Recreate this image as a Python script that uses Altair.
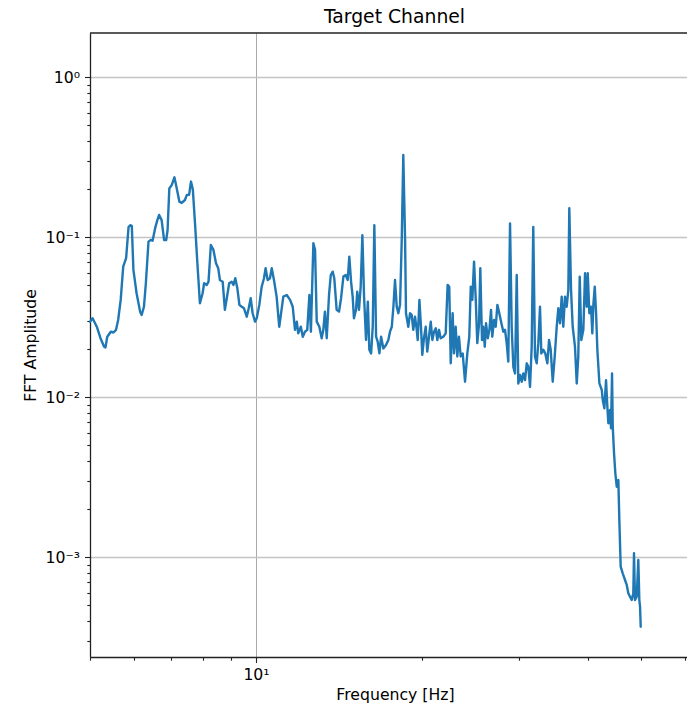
import altair as alt
import pandas as pd

# Spectrum of the target channel: frequency bins (Hz) and FFT amplitudes
freq_hz = [
    5.00, 5.05, 5.14, 5.22, 5.30, 5.33, 5.37, 5.45, 5.51, 5.57,
    5.62, 5.68, 5.74, 5.81, 5.87, 5.91, 5.95, 5.99, 6.07, 6.16,
    6.20, 6.26, 6.31, 6.38, 6.44, 6.49, 6.56, 6.62, 6.67, 6.74,
    6.81, 6.87, 6.91, 6.96, 7.03, 7.11, 7.18, 7.26, 7.33, 7.43,
    7.49, 7.56, 7.62, 7.68, 7.75, 7.82, 7.91, 8.00, 8.05, 8.14,
    8.20, 8.28, 8.37, 8.46, 8.54, 8.60, 8.70, 8.78, 8.85, 8.94,
    9.03, 9.10, 9.17, 9.25, 9.33, 9.42, 9.51, 9.62, 9.70, 9.78,
    9.86, 9.96, 10.03, 10.14, 10.24, 10.34, 10.41, 10.50, 10.60, 10.68,
    10.78, 10.90, 11.02, 11.21, 11.37, 11.53, 11.66, 11.77, 11.86, 11.93,
    12.06, 12.16, 12.27, 12.39, 12.50, 12.58, 12.71, 12.80, 12.89, 13.03,
    13.16, 13.25, 13.34, 13.44, 13.57, 13.67, 13.78, 13.87, 14.01, 14.15,
    14.27, 14.41, 14.55, 14.67, 14.77, 14.88, 14.98, 15.06, 15.19, 15.27,
    15.38, 15.49, 15.60, 15.71, 15.84, 15.96, 16.06, 16.18, 16.29, 16.40,
    16.52, 16.63, 16.75, 16.87, 17.03, 17.22, 17.39, 17.51, 17.64, 17.76,
    17.88, 18.01, 18.13, 18.26, 18.39, 18.51, 18.65, 18.72, 18.90, 19.04,
    19.17, 19.30, 19.44, 19.58, 19.66, 19.80, 19.93, 20.04, 20.18, 20.33,
    20.46, 20.61, 20.76, 20.90, 21.05, 21.20, 21.34, 21.49, 21.64, 21.88,
    22.10, 22.28, 22.43, 22.57, 22.75, 22.88, 23.04, 23.20, 23.36, 23.53,
    23.73, 23.96, 24.19, 24.39, 24.54, 24.70, 24.88, 25.06, 25.22, 25.41,
    25.54, 25.72, 25.86, 26.02, 26.16, 26.35, 26.53, 26.71, 26.85, 27.05,
    27.24, 27.43, 27.65, 27.94, 28.12, 28.32, 28.52, 28.71, 28.92, 29.12,
    29.32, 29.53, 29.74, 29.94, 30.16, 30.37, 30.57, 30.79, 31.01, 31.22,
    31.44, 31.66, 31.87, 32.10, 32.33, 32.55, 32.78, 32.96, 33.24, 33.51,
    33.80, 34.04, 34.28, 34.57, 34.86, 35.15, 35.39, 35.64, 35.89, 36.13,
    36.39, 36.65, 36.90, 37.05, 37.32, 37.58, 37.94, 38.22, 38.47, 38.70,
    38.96, 39.29, 39.57, 39.85, 40.02, 40.29, 40.58, 40.79, 40.97, 41.21,
    41.44, 41.66, 42.02, 42.44, 42.61, 42.90, 43.20, 43.44, 43.62, 43.93,
    44.11, 44.30, 44.43, 44.67, 44.91, 45.18, 45.48, 45.67, 45.93, 46.32,
    46.77, 47.10, 47.42, 47.75, 48.10, 48.42, 48.56, 48.76, 49.11, 49.44,
    49.65, 49.80, 49.94,
]

fft_amp = [
    0.0297, 0.0312, 0.0276, 0.0234, 0.0207, 0.0205, 0.0239, 0.0257, 0.0254, 0.0264,
    0.0304, 0.0406, 0.0655, 0.0740, 0.116, 0.119, 0.118, 0.0625, 0.0447, 0.0343,
    0.0327, 0.0368, 0.0516, 0.0939, 0.0962, 0.0952, 0.114, 0.128, 0.138, 0.128,
    0.0962, 0.0962, 0.111, 0.202, 0.212, 0.237, 0.202, 0.167, 0.164, 0.171,
    0.184, 0.184, 0.223, 0.198, 0.122, 0.0721, 0.0387, 0.0447, 0.0516, 0.0504,
    0.0528, 0.0895, 0.0834, 0.0688, 0.0640, 0.0541, 0.0528, 0.0352, 0.0416, 0.0516,
    0.0528, 0.0504, 0.0555, 0.0480, 0.0378, 0.0368, 0.0360, 0.0319, 0.0360, 0.0416,
    0.0335, 0.0297, 0.0312, 0.0378, 0.0491, 0.0555, 0.0640, 0.0541, 0.0555, 0.0640,
    0.0541, 0.0426, 0.0276, 0.0426, 0.0436, 0.0406, 0.0368, 0.0264, 0.0297, 0.0251,
    0.0276, 0.0239, 0.0257, 0.0264, 0.0436, 0.0257, 0.0917, 0.0834, 0.0297, 0.0276,
    0.0234, 0.0264, 0.0343, 0.0234, 0.0436, 0.0581, 0.0610, 0.0555, 0.0352, 0.0343,
    0.0416, 0.0568, 0.0581, 0.0541, 0.0757, 0.0528, 0.0426, 0.0312, 0.0352, 0.0457,
    0.0352, 0.0491, 0.103, 0.0426, 0.0228, 0.0396, 0.0198, 0.0188, 0.0276, 0.119,
    0.0239, 0.0223, 0.0188, 0.0239, 0.0202, 0.0212, 0.0228, 0.0257, 0.0276, 0.0368,
    0.0541, 0.0368, 0.0335, 0.0378, 0.0962, 0.327, 0.0962, 0.0335, 0.0276, 0.0335,
    0.0327, 0.0264, 0.0319, 0.0264, 0.0228, 0.0406, 0.0276, 0.0184, 0.0234, 0.0276,
    0.0193, 0.0239, 0.0297, 0.0228, 0.0257, 0.0270, 0.0228, 0.0264, 0.0234, 0.0239,
    0.0251, 0.0504, 0.0491, 0.0163, 0.0335, 0.0188, 0.0276, 0.0180, 0.0239, 0.0180,
    0.0188, 0.0125, 0.0188, 0.0239, 0.0491, 0.0406, 0.0704, 0.0406, 0.0218, 0.0290,
    0.0640, 0.0228, 0.0276, 0.0207, 0.0290, 0.0234, 0.0264, 0.0352, 0.0239, 0.0304,
    0.0276, 0.0378, 0.0335, 0.0283, 0.0257, 0.0264, 0.0218, 0.0167, 0.122, 0.0276,
    0.0155, 0.0141, 0.0581, 0.0122, 0.0138, 0.0125, 0.0141, 0.0128, 0.0163, 0.0155,
    0.0116, 0.0207, 0.116, 0.0180, 0.0163, 0.0218, 0.0368, 0.0188, 0.0198, 0.0188,
    0.0163, 0.0228, 0.0198, 0.0125, 0.0180, 0.0276, 0.0360, 0.0290, 0.0426, 0.0276,
    0.0426, 0.0368, 0.0469, 0.152, 0.0469, 0.0276, 0.0207, 0.0122, 0.0180, 0.0568,
    0.0228, 0.0264, 0.0596, 0.0368, 0.0596, 0.0335, 0.0368, 0.0251, 0.0378, 0.0491,
    0.0335, 0.0198, 0.0122, 0.0111, 0.00962, 0.00853, 0.0128, 0.00873, 0.00688, 0.00833,
    0.00640, 0.0141, 0.00655, 0.00447, 0.00335, 0.00276, 0.00304, 0.00171, 0.000873, 0.000794,
    0.000721, 0.000671, 0.000596, 0.000567, 0.000541, 0.000596, 0.00106, 0.000541, 0.000567, 0.000962,
    0.000541, 0.000491, 0.000368,
]

# Log-axis tick positions (majors get labels and grid lines, the rest are minor ticks)
x_ticks = [5, 6, 7, 8, 9, 10, 20, 30, 40, 50, 60]
y_ticks = [
    0.0003, 0.0004, 0.0005, 0.0006, 0.0007, 0.0008, 0.0009,
    0.001, 0.002, 0.003, 0.004, 0.005, 0.006, 0.007, 0.008, 0.009,
    0.01, 0.02, 0.03, 0.04, 0.05, 0.06, 0.07, 0.08, 0.09,
    0.1, 0.2, 0.3, 0.4, 0.5, 0.6, 0.7, 0.8, 0.9,
    1.0,
]
x_domain = [4.996, 60.6]
y_domain = [0.000238, 1.892]

chart_title = ["Target Channel"]

df = pd.DataFrame({"freq": freq_hz, "amp": fft_amp})
title_df = pd.DataFrame({"label": chart_title})

FONT = "DejaVu Sans"
INK = "#222222"
MAJOR = "abs(log(datum.value) / LN10 - round(log(datum.value) / LN10)) < 0.001"

W, H = 597, 624

x_axis = alt.Axis(
    values=x_ticks,
    title="Frequency [Hz]",
    labelExpr=f"({MAJOR}) ? '10¹' : ''",
    labelOverlap=False,
    labelFlush=False,
    labelFont=FONT,
    labelFontSize=15.7,
    labelColor="black",
    labelPadding=5,
    tickColor=INK,
    tickWidth=1.1,
    tickSize={"condition": {"test": MAJOR, "value": 5.5}, "value": 3.2},
    domainColor=INK,
    domainWidth=1.3,
    grid=True,
    gridColor="#aaaaaa",
    gridWidth=1.0,
    gridOpacity={"condition": {"test": MAJOR, "value": 1}, "value": 0},
    titleFont=FONT,
    titleFontSize=15.7,
    titleFontWeight="normal",
    titleColor="black",
    titleX=305,
    titleY=30,
    titleAlign="center",
    titleBaseline="top",
)

y_axis = alt.Axis(
    values=y_ticks,
    title="FFT Amplitude",
    labelExpr=(
        f"({MAJOR}) ? (datum.value > 0.5 ? '10⁰' : datum.value > 0.05 ? '10⁻¹' : "
        "datum.value > 0.005 ? '10⁻²' : '10⁻³') : ''"
    ),
    labelOverlap=False,
    labelFlush=False,
    labelFont=FONT,
    labelFontSize=15.7,
    labelColor="black",
    labelPadding=5,
    tickColor=INK,
    tickWidth=1.1,
    tickSize={"condition": {"test": MAJOR, "value": 5.5}, "value": 3.2},
    domainColor=INK,
    domainWidth=1.3,
    grid=True,
    gridColor="#c4c4c4",
    gridWidth=1.3,
    gridOpacity={"condition": {"test": MAJOR, "value": 1}, "value": 0},
    titleFont=FONT,
    titleFontSize=15.7,
    titleFontWeight="normal",
    titleColor="black",
    titleX=-60,
    titleY=H / 2,
    titleAngle=270,
    titleAlign="center",
    titleBaseline="middle",
)

spectrum = alt.Chart(df).mark_line(
    color="#1f77b4", strokeWidth=2.4, strokeJoin="round", strokeCap="round"
).encode(
    x=alt.X("freq:Q", scale=alt.Scale(type="log", domain=x_domain, nice=False), axis=x_axis),
    y=alt.Y("amp:Q", scale=alt.Scale(type="log", domain=y_domain, nice=False), axis=y_axis),
)

# Top frame line of the axes box
top_spine = alt.Chart(title_df).mark_rule(color=INK, strokeWidth=1.3).encode(
    x=alt.value(0), x2=alt.value(W), y=alt.value(0)
)

# Plot heading, set just above the frame
heading = alt.Chart(title_df).mark_text(
    font=FONT, fontSize=18.8, color="black", align="center", baseline="alphabetic"
).encode(
    text="label:N",
    x=alt.value(W / 2 + 6),
    y=alt.value(-10),
)

chart = (
    alt.layer(spectrum, top_spine, heading)
    .properties(
        width=W,
        height=H,
        autosize=alt.AutoSizeParams(type="none"),
        padding={"left": 90, "top": 33, "right": 0, "bottom": 52},
        background="white",
    )
    .configure_view(stroke="transparent")
)

chart.save("out.html", embed_options={"renderer": "svg", "actions": False})
